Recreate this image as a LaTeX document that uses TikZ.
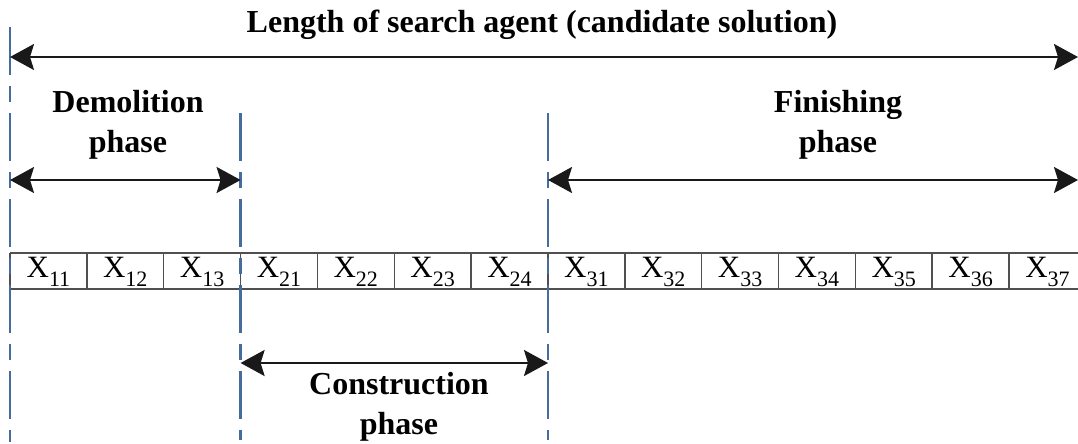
\documentclass[tikz,border=0pt]{standalone}
\usepackage{fontspec}
\setmainfont{Liberation Serif}
\usetikzlibrary{arrows.meta}
\definecolor{dashblue}{RGB}{70,108,158}
\definecolor{cellgray}{RGB}{80,80,80}
\begin{document}
\begin{tikzpicture}[x=1pt,y=-1pt,
  guide/.style={dashblue, line width=2.4pt, dash pattern=on 48pt off 11pt on 16pt off 11pt},
  span/.style={line width=2.2pt, black!90, {Stealth[length=24pt,width=26pt,inset=4pt]}-{Stealth[length=24pt,width=26pt,inset=4pt]}},
  phaselabel/.style={font=\fontsize{32}{40}\selectfont\bfseries, align=center, anchor=north, inner sep=0pt},
  celltext/.style={font=\fontsize{31}{31}\selectfont, anchor=base, inner sep=0pt},
  gridline/.style={cellgray, line width=1.5pt}]
\useasboundingbox (0,0) rectangle (1078,444);

% cell grid
\draw[gridline] (10,253) -- (1078,253);
\draw[gridline] (10,289) -- (1078,289);
\foreach \i in {0,...,13}{
  \draw[gridline] ({10+76.85*\i},253) -- ({10+76.85*\i},289);
}
% cell texts
\foreach \lab [count=\i from 0] in {11,12,13,21,22,23,24,31,32,33,34,35,36,37}{
  \node[celltext] (x\lab) at ({48.4+76.85*\i},277) {X\raisebox{-9pt}{\fontsize{22}{22}\selectfont\lab}};
}

% guide lines
\coordinate (g0t) at (10,27);    \coordinate (g0b) at (10,442);
\coordinate (g1t) at (240.6,113); \coordinate (g1b) at (240.6,440);
\coordinate (g2t) at (548,113);  \coordinate (g2b) at (548,440);
\draw[guide] (g0t) -- (g0b);
\draw[guide] (g1t) -- (g1b);
\draw[guide] (g2t) -- (g2b);

% span arrows
\coordinate (aL) at (10,57);    \coordinate (aR) at (1078,57);
\coordinate (dL) at (10,180);   \coordinate (dR) at (240.6,180);
\coordinate (fL) at (548,180);  \coordinate (fR) at (1078,180);
\coordinate (cL) at (240.6,363); \coordinate (cR) at (548,363);
\draw[span] (aL) -- (aR);
\draw[span] (dL) -- (dR);
\draw[span] (fL) -- (fR);
\draw[span] (cL) -- (cR);

% labels
\node[phaselabel] (title) at (542,10) {Length of search agent (candidate solution)};
\node[phaselabel] (demo) at (128,90) {Demolition\\phase};
\node[phaselabel] (fini) at (838,90) {Finishing\\phase};
\node[phaselabel] (cons) at (399,372) {Construction\\phase};
\end{tikzpicture}
\end{document}
